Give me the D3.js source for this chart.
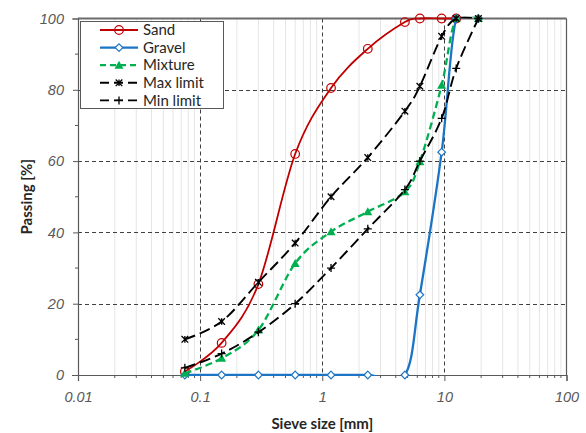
<!DOCTYPE html>
<html>
<head>
<meta charset="utf-8">
<script src="https://cdn.jsdelivr.net/npm/d3@7"></script>
<style>
  html, body { margin: 0; padding: 0; background: #fff; }
  svg { display: block; font-family: Lato, "Open Sans", sans-serif; }
</style>
</head>
<body>
<svg id="chart" width="586" height="433"></svg>
<script>
// Sieve sizes in mm
const sieves = [0.075, 0.15, 0.3, 0.6, 1.18, 2.36, 4.75, 6.3, 9.5, 12.5, 19];

// Percentage passing for each material / grading limit
const sand     = [1, 9, 25.5, 62, 80.5, 91.5, 99, 100, 100, 100];
const gravel   = [0, 0, 0, 0, 0, 0, 0, 22.5, 62.5, 100, 100];
const mixture  = [0.5, 4.7, 12.6, 31.3, 40.2, 45.8, 51.4, 59.8, 81.3, 100, 100];
const maxLimit = [10, 15, 26, 37, 50, 61, 74, 81, 95, 100, 100];
const minLimit = [2, 6, 12, 20, 30, 41, 52, 60, 72, 86, 100];

const xTicks = [0.01, 0.1, 1, 10, 100];
const yTicks = [0, 20, 40, 60, 80, 100];

const seriesNames = ["Sand", "Gravel", "Mixture", "Max limit", "Min limit"];
const seriesValues = [sand, gravel, mixture, maxLimit, minLimit];

const styles = {
  "Sand":      { color: "#C00000", width: 1.8, dash: null,    marker: "circle" },
  "Gravel":    { color: "#1C75C4", width: 2.3, dash: null,    marker: "diamond" },
  "Mixture":   { color: "#00B050", width: 2.3, dash: "7,4",   marker: "triangle" },
  "Max limit": { color: "#000000", width: 1.9, dash: "11,5",  marker: "star" },
  "Min limit": { color: "#000000", width: 1.9, dash: "11,5",  marker: "plus" }
};

const svg = d3.select("#chart");
const L = 78, R = 566.5, T = 18.5, B = 375;
const axisColor = "#595959";

const x = d3.scaleLog().domain([0.01, 100]).range([L, R]);
const y = d3.scaleLinear().domain([0, 100]).range([B, T]);

// minor vertical gridlines (2..9 within each decade)
const minorX = [];
for (let d = 0.01; d < 100; d *= 10) {
  for (let k = 2; k <= 9; k++) minorX.push(+(d * k).toPrecision(3));
}
svg.append("g").selectAll("line").data(minorX).join("line")
  .attr("x1", d => x(d)).attr("x2", d => x(d))
  .attr("y1", T).attr("y2", B)
  .attr("stroke", "#e6e6e6").attr("stroke-width", 1);

// major dashed gridlines
svg.append("g").selectAll("line").data(xTicks.slice(1, -1)).join("line")
  .attr("x1", d => Math.round(x(d)) + 0.5).attr("x2", d => Math.round(x(d)) + 0.5)
  .attr("y1", T).attr("y2", B)
  .attr("stroke", "#404040").attr("stroke-width", 1).attr("stroke-dasharray", "4,3");
svg.append("g").selectAll("line").data(yTicks.slice(1, -1)).join("line")
  .attr("x1", L).attr("x2", R)
  .attr("y1", d => Math.round(y(d)) + 0.5).attr("y2", d => Math.round(y(d)) + 0.5)
  .attr("stroke", "#404040").attr("stroke-width", 1).attr("stroke-dasharray", "4,3");

// plot frame: top and right edges
svg.append("line").attr("x1", L).attr("x2", R).attr("y1", T).attr("y2", T)
  .attr("stroke", "#6b6b6b").attr("stroke-width", 2);
svg.append("line").attr("x1", R).attr("x2", R).attr("y1", T).attr("y2", B)
  .attr("stroke", axisColor).attr("stroke-width", 1.2);

// x axis
const xAxis = svg.append("g").attr("transform", `translate(0,${B})`)
  .call(d3.axisBottom(x).tickValues(xTicks).tickFormat(d3.format("~g")).tickSize(6).tickPadding(11));
xAxis.select(".domain").attr("stroke", axisColor).attr("stroke-width", 1.2);
xAxis.selectAll(".tick line").attr("stroke", axisColor);
xAxis.selectAll("text").attr("font-size", 14.5).attr("font-style", "italic").attr("fill", "#595959");
svg.append("g").attr("transform", `translate(0,${B})`)
  .selectAll("line").data(minorX).join("line")
  .attr("x1", d => x(d)).attr("x2", d => x(d)).attr("y1", 0).attr("y2", 3)
  .attr("stroke", axisColor);

// y axis
const yAxis = svg.append("g").attr("transform", `translate(${L},0)`)
  .call(d3.axisLeft(y).tickValues(yTicks).tickSize(6).tickPadding(8));
yAxis.select(".domain").attr("stroke", axisColor).attr("stroke-width", 1.2);
yAxis.selectAll(".tick line").attr("stroke", axisColor).attr("x2", 0).attr("x1", -5);
yAxis.selectAll("text").attr("font-size", 14.5).attr("font-style", "italic").attr("fill", "#595959");
svg.append("g").attr("transform", `translate(${L},0)`)
  .selectAll("line").data([10, 30, 50, 70, 90]).join("line")
  .attr("x1", -3).attr("x2", 0).attr("y1", d => y(d)).attr("y2", d => y(d))
  .attr("stroke", axisColor);

// axis titles
svg.append("text").attr("x", (L + R) / 2).attr("y", 429)
  .attr("text-anchor", "middle").attr("font-weight", "bold").attr("font-size", 15)
  .attr("fill", "#262626").text("Sieve size [mm]");
svg.append("text").attr("transform", `translate(32,${(T + B) / 2}) rotate(-90)`)
  .attr("text-anchor", "middle").attr("font-weight", "bold").attr("font-size", 15)
  .attr("fill", "#262626").text("Passing [%]");

// clip for the series lines
svg.append("clipPath").attr("id", "plotClip").append("rect")
  .attr("x", L).attr("y", T - 2).attr("width", R - L).attr("height", B - T + 3);

const line = d3.line()
  .x(d => x(d[0])).y(d => y(d[1]))
  .curve(d3.curveCatmullRom.alpha(0));

function drawMarker(g, kind, color) {
  if (kind === "circle") {
    g.append("circle").attr("r", 4.3).attr("fill", "none").attr("stroke", color).attr("stroke-width", 1.2);
  } else if (kind === "diamond") {
    g.append("path").attr("d", "M0,-3.8L3.8,0L0,3.8L-3.8,0Z")
      .attr("fill", "#ffffff").attr("stroke", color).attr("stroke-width", 1.2);
  } else if (kind === "triangle") {
    g.append("path").attr("d", "M0,-4.5L4.5,3.5L-4.5,3.5Z").attr("fill", color);
  } else if (kind === "star") {
    g.append("path").attr("d", "M-3.3,-3.3L3.3,3.3M-3.3,3.3L3.3,-3.3M0,-3.3L0,3.3")
      .attr("stroke", color).attr("stroke-width", 1.3).attr("fill", "none");
  } else if (kind === "plus") {
    g.append("path").attr("d", "M-4,0L4,0M0,-4L0,4")
      .attr("stroke", color).attr("stroke-width", 1.3).attr("fill", "none");
  }
}

seriesNames.forEach((name, i) => {
  const st = styles[name];
  const pts = seriesValues[i].map((v, j) => [sieves[j], v]);
  const g = svg.append("g");
  g.append("path").datum(pts)
    .attr("clip-path", "url(#plotClip)")
    .attr("d", line)
    .attr("fill", "none")
    .attr("stroke", st.color)
    .attr("stroke-width", st.width)
    .attr("stroke-dasharray", st.dash);
  g.selectAll("g.m").data(pts).join("g").attr("class", "m")
    .attr("transform", d => `translate(${x(d[0])},${y(d[1])})`)
    .each(function () { drawMarker(d3.select(this), st.marker, st.color); });
});

// legend
const leg = svg.append("g");
leg.append("rect").attr("x", 80.5).attr("y", 21.5).attr("width", 143).attr("height", 87)
  .attr("fill", "#fff").attr("stroke", "#595959").attr("stroke-width", 1);
seriesNames.forEach((name, i) => {
  const st = styles[name];
  const ly = 30 + i * 17.6;
  leg.append("line").attr("x1", 100).attr("x2", 138).attr("y1", ly).attr("y2", ly)
    .attr("stroke", st.color).attr("stroke-width", st.width)
    .attr("stroke-dasharray", st.dash ? (name === "Mixture" ? "6,4" : "9,5") : null);
  const m = leg.append("g").attr("transform", `translate(119,${ly})`);
  drawMarker(m, st.marker, st.color);
  leg.append("text").attr("x", 143).attr("y", ly).attr("dy", "0.35em")
    .attr("font-size", 15).attr("fill", "#262626").text(name);
});
</script>
</body>
</html>
